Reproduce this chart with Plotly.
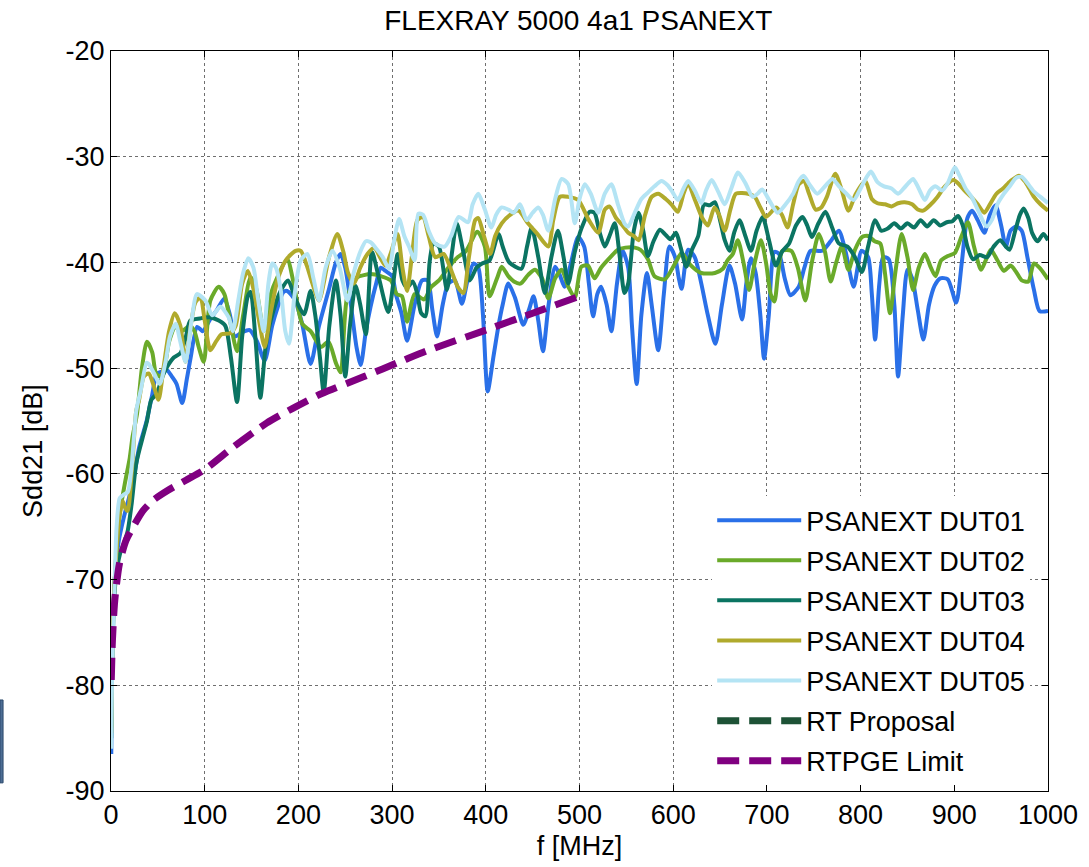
import plotly.graph_objects as go

# ---------------- data ----------------
dut01_f = [0.3, 1, 2, 4, 8, 14, 20, 25, 30, 38, 44, 49, 55, 60, 65, 70, 76, 81, 85, 92, 98, 105, 113, 121, 127, 132, 140, 148, 156, 164, 172, 178, 184, 188, 196, 204, 213, 222, 233, 240, 245, 250, 256, 262, 266.5, 272, 277, 283, 288, 293, 300, 304, 310, 316, 324, 332, 338, 343, 348, 354, 360, 367, 374.5, 381, 387, 392, 397, 402, 408, 413.5, 418, 424, 431, 440, 446, 451, 456, 461, 467, 474, 479, 484, 491, 498.6, 505, 510, 514.5, 519, 523, 529, 534, 540, 546, 552, 556, 561, 566, 572, 577, 584, 590, 596, 602, 606, 609, 616, 623, 630, 637, 645, 652, 660, 666, 673.5, 678, 683, 688, 693, 697, 702, 708, 713, 719, 725, 734, 740, 746.6, 759, 768, 776.7, 784, 792.6, 801, 808, 812, 815.5, 820, 824, 830, 836, 840, 845, 850, 855, 861, 867, 873, 879, 885, 893, 902, 908, 914, 919, 925, 932, 938, 944, 950, 955, 960, 966, 972, 978, 985, 991, 1000]
dut01_db = [-86.5, -79, -74, -70, -66.5, -64, -62, -60, -57.5, -55, -52.5, -50.5, -50.3, -50.2, -50.8, -51.5, -53.3, -51, -49, -46.1, -46.5, -45.5, -44.5, -43.4, -45, -47, -46.6, -46.4, -47.5, -49.3, -46, -44.2, -42.8, -42.7, -43.5, -45.8, -49.6, -46, -42.4, -40, -39.2, -40.5, -44, -48, -49.7, -46.5, -44.2, -42, -40.5, -40.8, -41.3, -43, -44.8, -47.4, -44, -41.7, -41.7, -44.5, -47, -44, -42, -41.7, -43.9, -41.5, -40.1, -40.5, -45, -52.2, -49, -46, -44, -42, -43.3, -45.9, -44.5, -43.2, -45.5, -48.4, -44, -40.4, -41.2, -42.3, -40, -37.6, -38.5, -42, -45.1, -43, -42.3, -44, -46.5, -42, -38.9, -40.5, -46, -51.5, -45, -41, -44, -48.3, -43, -38.5, -39.5, -41.5, -42.5, -38.8, -39.5, -42, -45, -47.7, -44, -40.3, -42, -45.4, -42, -39.6, -41, -45, -49.1, -45, -39, -39.2, -41.5, -43.1, -42.3, -40.5, -38.9, -38.9, -38, -37, -39, -42.3, -38.9, -39.5, -43, -47.3, -42, -39.5, -39.7, -44, -50.8, -45, -40.7, -41.5, -44.5, -47.3, -44, -42.2, -41.5, -41.6, -43.8, -40, -35.8, -35.1, -36, -37.2, -35.5, -34.6, -36.5, -38.5, -37, -36.6, -37, -39.5, -42.6, -44.6, -44.6]

dut02_f = [0.3, 2, 4, 9, 14.6, 20, 23, 27.8, 33, 38.4, 44, 48, 52.7, 57, 62, 68.7, 73, 77.6, 84, 89, 93.6, 99, 106, 115, 121, 127, 134.5, 141, 149, 155, 163, 170.5, 177, 188, 195, 204, 213, 224, 232, 240, 245, 252, 263, 270, 277, 288, 298.6, 305, 310.6, 316, 324, 334, 342, 350, 360, 370, 379, 391, 399, 404, 412, 417, 424, 430, 437, 445, 452.5, 460, 466.7, 474, 481, 488, 495, 502, 509, 516, 523, 534, 541, 549, 559, 565, 573, 580, 591, 602, 609, 618, 630, 644.5, 653, 658, 663.6, 669, 675, 681, 687, 693.6, 699, 704, 708, 712, 716.6, 726, 733, 741, 748, 755.5, 762, 768, 774, 780, 787, 794, 801.4, 808, 815, 821, 826, 831.4, 837, 843.8, 850, 856, 862, 868.6, 875, 880, 886, 893, 900.7, 907.4, 914.5, 921, 928.6, 934, 939, 946, 953, 960, 966, 972, 979, 985, 992, 1000]
dut02_db = [-84, -74, -70, -64, -61, -58.5, -56.5, -54.3, -50, -47.5, -48.5, -50.5, -50.8, -50, -47.5, -46, -46.5, -46.4, -46, -46.5, -48, -49.4, -43.6, -42.3, -43, -45.5, -48.4, -45, -41.4, -42.5, -46.5, -43, -41.5, -39.7, -42, -45.8, -46.5, -48, -47.5, -49.5, -50.4, -43.3, -41.4, -41.2, -41.1, -41.3, -41.7, -43, -43.2, -45.6, -43, -43.5, -42.3, -41.7, -40.5, -39.5, -38.9, -37.1, -38.5, -43.2, -41.5, -40.4, -41.3, -41.8, -42, -41.2, -40.7, -41.5, -43.4, -41.5, -40.7, -42.3, -43.3, -40.4, -40.3, -41.5, -40.5, -39.4, -38.8, -38.6, -38.6, -38.8, -39.7, -41.3, -41.6, -40.1, -39.1, -40.2, -41, -41, -40.6, -39.8, -39.2, -37.9, -40, -42.6, -40, -37.9, -40, -43, -43.7, -41, -38.9, -38.9, -40.5, -43.6, -40, -37.3, -39, -41.8, -40, -38.5, -40.7, -38.8, -37.6, -37.5, -38, -38.2, -41, -44.8, -41, -37.3, -39.5, -42.6, -40.5, -39.2, -40.5, -41.3, -39.8, -39.4, -39.1, -37.6, -36.2, -38.5, -40.7, -39.7, -38.8, -39.8, -40.8, -40.3, -40.9, -41.7, -41.8, -40.1, -40.6, -41.6]

dut03_f = [0.3, 2, 5, 9.5, 14, 17.8, 21.8, 27, 34, 38.4, 43, 49, 54, 59.8, 67, 74, 80, 84.7, 95, 106, 115, 122, 128, 134.5, 140, 146, 149, 154, 159.4, 165, 171, 181, 189, 197, 206, 213, 218, 223, 227, 233, 240, 245, 250, 255, 261, 266, 272, 278.5, 286, 296, 306, 311, 316, 322, 327, 331, 335.5, 340, 344, 350, 358.5, 364, 369, 376, 383, 390, 396, 404, 413.5, 418, 425, 438, 444, 449, 456, 463, 470, 477, 483, 488, 495, 502, 511, 516, 521, 527, 532, 537.7, 543, 548, 552, 558, 563, 568, 573, 579, 585.8, 591, 597, 603, 608, 614, 620, 626.7, 633, 639, 644.5, 650, 655, 660, 665, 670.7, 677, 683, 689, 695.4, 702, 709.5, 716, 723.7, 731, 738, 743, 748, 755, 762.5, 770, 776.7, 786, 794, 801.4, 808, 815.5, 822, 829, 836, 843, 850, 857, 864, 871, 878, 885, 892, 898, 904, 909, 914, 920, 927, 935, 942, 949, 955, 959, 965, 970, 974, 979, 983, 989, 995, 1000]
dut03_db = [-85, -75, -70, -67.6, -66.5, -65.4, -63, -59, -56.5, -55, -53, -52.4, -51, -49.9, -49, -48.6, -47, -45.5, -45.3, -45.2, -45.5, -46, -49, -53.2, -47, -43.2, -42.8, -47, -52.8, -48, -45.3, -42.7, -41.7, -43.5, -44.9, -42.7, -45, -49, -52.3, -46, -41.7, -45, -50.8, -46, -42.2, -44, -46.8, -39, -41.5, -44.7, -39.2, -41.7, -42.4, -41.8, -43, -44.8, -45.1, -40, -38.2, -38.5, -42.6, -39, -36.3, -39, -41.7, -40.5, -40.1, -39.8, -37.3, -38.5, -40, -40.6, -38.5, -36.7, -39.5, -42.9, -39.5, -37, -39.5, -42, -39, -36.8, -35.2, -35.3, -37, -38.5, -37.5, -36.3, -39.5, -42.9, -42, -37, -35.3, -37, -39.4, -38, -36.9, -37.3, -37.8, -37.2, -38.6, -40.4, -38.8, -37.5, -34.5, -34.6, -34.3, -36, -37.9, -38.9, -37.2, -36, -37.5, -38.9, -37, -35.7, -37.8, -40.3, -39, -38.2, -36.5, -35.7, -36.5, -37.6, -36.3, -35.2, -36.8, -38.2, -38.5, -39.5, -40.9, -38.5, -36, -37, -36.8, -36.3, -36.8, -36.3, -36.7, -36, -36.6, -36, -36.5, -36.2, -36.1, -35.6, -36.5, -38.5, -39.7, -39.3, -39.5, -38.5, -37.9, -38.5, -38.8, -37, -35.5, -34.9, -35.8, -37.2, -38, -37.3, -37.9]

dut04_f = [0.3, 2, 5, 9, 12.6, 15, 17.8, 22, 27, 30, 35, 40.2, 45, 50.7, 56, 62, 68, 74, 79.5, 85, 90, 95.5, 100, 106, 112, 118, 127, 133, 140, 146, 152, 158, 164, 170, 177.6, 186.5, 197, 202.5, 209, 215, 222, 232.7, 241.6, 248, 253, 259.4, 266, 273.7, 281, 287, 293, 299, 305.7, 311, 316, 321, 327, 333, 339, 346, 355, 362, 370, 376, 382, 388.7, 392, 398, 404.6, 410, 417, 426, 434.8, 445, 455, 466.7, 472, 479, 488, 498.6, 510, 520, 527, 532, 539, 546, 552, 558, 563, 570, 577, 584, 592, 598, 605, 611, 616, 622, 631, 637, 644, 649, 655, 661, 667, 680, 687, 693, 699, 710, 716, 722, 728, 734, 739.6, 745, 752, 758, 764, 773, 780, 787, 795, 805, 812, 818, 826, 833, 840, 847, 855, 861, 866.8, 875, 882, 890, 899, 905, 911, 918, 925, 932, 938, 945, 952, 960, 969, 975, 980, 985, 992, 1000]
dut04_db = [-84.5, -74, -68.5, -64, -62.6, -63.2, -63.5, -60, -54, -53, -50.8, -50.5, -51.5, -53, -50, -46.5, -44.8, -46, -49.4, -46, -43.8, -43.3, -45.5, -48.3, -47.5, -46.8, -46.7, -46, -42, -40.8, -42.5, -45.5, -48, -45, -41.7, -39.8, -38.9, -38.9, -40.3, -42, -43.6, -39.5, -37.3, -39, -41, -42, -40.5, -39.2, -38.6, -39.5, -40.3, -39, -37.3, -40.5, -42.7, -39.5, -36, -35.7, -37.5, -39.5, -39.2, -40.5, -42.3, -42.9, -39.5, -36, -35.8, -37.5, -39.2, -37.5, -36.3, -35.5, -35.1, -36.3, -37.3, -38.5, -36, -33.8, -33.8, -34.1, -36, -37.2, -35, -34.7, -35.8, -36.5, -37.2, -37.5, -37.9, -35.5, -33.8, -33.5, -34, -34.5, -35.2, -33.5, -32.5, -33.8, -35.8, -36.5, -34.8, -35.5, -37, -35, -33.5, -33.5, -33.8, -34.8, -35.7, -34.8, -35.5, -36.7, -34.5, -32.6, -32.3, -33.5, -35, -34.8, -33.8, -31.6, -33.2, -35.1, -33.5, -32.3, -34, -34.4, -34.5, -34.7, -34.4, -34.3, -34.5, -35, -35.1, -34.5, -33.8, -32.8, -32.2, -32.6, -33.2, -33.8, -34.5, -35.3, -34.5, -33.5, -33, -32.3, -31.8, -32.3, -33, -33.8, -34.5, -35.1]

dut05_f = [0.3, 1, 2, 4, 6, 9.3, 13, 18, 21.8, 27, 32, 38, 40.2, 46, 52, 58, 63, 69, 74, 79.5, 86, 91.8, 100.7, 108, 116.7, 125.6, 130, 136, 141, 146.5, 152, 157, 163, 168, 172, 176, 181, 186, 190, 196, 202.5, 209.6, 216, 222, 229, 236.3, 244, 252.3, 259, 266.5, 272, 277, 284, 290, 296.8, 302, 307.5, 313, 318, 324, 328, 333, 339, 346, 356, 363, 371, 381, 386, 392, 399, 406, 411, 417, 424, 430, 436.5, 443.6, 450, 456, 461, 466.7, 474, 481, 488, 495, 500, 505.7, 512, 520, 527, 534, 541, 548, 552, 558, 566, 573, 580, 587.5, 594, 599, 605, 611, 616, 623, 630, 635, 641, 648, 655, 662, 669, 677, 684.8, 690, 695, 703, 711.5, 720, 728, 734, 739, 746, 753.7, 762, 770, 777, 785, 792.6, 800, 806, 811, 818, 825, 833, 840, 846, 851, 856, 862, 868.6, 874, 880, 887, 893, 900.5, 905, 912, 918.5, 925, 934.5, 940, 946, 953, 960, 966, 972, 978, 985, 992, 1000]
dut05_db = [-86, -80, -76, -70, -65, -62.3, -62, -61.7, -59.5, -54, -52, -49.5, -49.6, -50.5, -51.5, -49.5, -47, -45.8, -47.5, -49.4, -45.5, -43, -43.6, -45, -44.2, -45.2, -46.5, -43.5, -41, -39.6, -40.5, -43.5, -46.5, -42, -40.1, -40.5, -42.5, -46.5, -47.7, -43, -39.8, -39.2, -41.5, -43.6, -40.5, -38.9, -40.5, -43.6, -41, -38.9, -38, -38.1, -38.8, -39.5, -40.6, -38, -35.9, -37.5, -38.5, -39.8, -35.4, -35.5, -37, -38.2, -38.5, -37.5, -35.7, -36.2, -34.5, -33.5, -35, -36.7, -35.5, -34.8, -35, -35.3, -34.5, -36, -35.3, -34.8, -35.5, -37, -34, -32.1, -32.6, -36.3, -34, -32.6, -33.5, -35.3, -33.5, -32.6, -34.5, -36.3, -36.6, -35.5, -34, -33.4, -32.8, -32.3, -32.7, -33.3, -34.1, -33, -32.3, -33.2, -34.4, -33.2, -32.2, -33.3, -34.5, -33, -31.5, -32.5, -33.8, -33.5, -33.1, -34.2, -35.3, -34.5, -33.5, -32.3, -31.8, -32.7, -33.5, -32.8, -32.1, -32.8, -33.5, -34.1, -33, -32, -31.4, -32.4, -32.8, -33, -33.5, -33, -32.5, -32.1, -33, -34.1, -33.2, -32.8, -33.2, -32.5, -31, -31.7, -33, -33.8, -35, -36.6, -36, -34.5, -33.5, -32.7, -32, -31.9, -32.5, -33.3, -33.8, -34.4]

rt_proposal_f = [None]
rt_proposal_db = [None]

rtpge_f = [0.3, 1.5, 4, 9, 16, 25, 34, 45, 60, 80, 100, 130, 166, 194, 225, 270, 311, 336, 400, 450, 500]
rtpge_db = [-79.5, -75.8, -72, -68.5, -66.3, -64.8, -63.5, -62.5, -61.6, -60.6, -59.6, -57.5, -55.2, -53.8, -52.4, -50.8, -49.3, -48.4, -46.4, -44.8, -43.2]

x_ticks = [0, 100, 200, 300, 400, 500, 600, 700, 800, 900, 1000]
y_ticks = [-90, -80, -70, -60, -50, -40, -30, -20]
x_tick_text = ["0", "100", "200", "300", "400", "500", "600", "700", "800", "900", "1000"]
y_tick_text = ["-90", "-80", "-70", "-60", "-50", "-40", "-30", "-20"]

names = ["PSANEXT DUT01", "PSANEXT DUT02", "PSANEXT DUT03", "PSANEXT DUT04",
         "PSANEXT DUT05", "RT Proposal", "RTPGE Limit"]
colors = ["#2a70e8", "#6aaa2a", "#0b7462", "#b0aa2c", "#b4e4f4", "#1d5236", "#800080"]

series = [(dut01_f, dut01_db), (dut02_f, dut02_db), (dut03_f, dut03_db),
          (dut04_f, dut04_db), (dut05_f, dut05_db),
          (rt_proposal_f, rt_proposal_db), (rtpge_f, rtpge_db)]

FONT = "Liberation Sans, Arial, sans-serif"

fig = go.Figure()
for i, ((fx, fy), name, col) in enumerate(zip(series, names, colors)):
    dashed = i >= 5
    fig.add_trace(go.Scatter(
        x=fx, y=fy, mode="lines", name=name, legendgroup=name,
        line=dict(color=col, width=7 if dashed else 4,
                  dash="22px,10px" if dashed else "solid",
                  shape="spline", smoothing=0.7),
    ))

fig.update_layout(
    width=1089, height=867,
    margin=dict(l=111, r=41, t=51, b=76),
    paper_bgcolor="white", plot_bgcolor="white",
    font=dict(family=FONT, size=27, color="black"),
    title=dict(text="FLEXRAY 5000 4a1 PSANEXT", x=0.531, xanchor="center",
               y=0.977, yanchor="middle", font=dict(size=28, color="black")),
    showlegend=True,
    legend=dict(x=0.981, xanchor="right", y=0.008, yanchor="bottom",
                bgcolor="white", borderwidth=0, itemwidth=84,
                font=dict(size=27, color="black"),
                traceorder="grouped", tracegroupgap=2),
    shapes=[dict(type="rect", xref="paper", yref="paper",
                 x0=-0.1185, x1=-0.1152, y0=0.011, y1=0.123,
                 fillcolor="#4d6d94", line=dict(color="#2c4a6c", width=1))],
    annotations=[dict(text="Sdd21 [dB]", textangle=-90, xref="paper", yref="paper",
                      x=-0.084, y=0.46, xanchor="center", yanchor="middle",
                      showarrow=False, font=dict(size=27, color="black"))],
)
fig.update_xaxes(
    range=[0, 1000], tickmode="array", tickvals=x_ticks, ticktext=x_tick_text,
    ticks="inside", ticklen=6, tickcolor="black",
    showline=True, linecolor="black", linewidth=1, mirror="allticks",
    showgrid=True, gridcolor="#6f6f6f", griddash="dot", gridwidth=1,
    zeroline=False,
    title=dict(text="f [MHz]", font=dict(size=27), standoff=6),
    tickfont=dict(size=27),
)
fig.update_yaxes(
    range=[-90, -20], tickmode="array", tickvals=y_ticks, ticktext=y_tick_text,
    ticks="inside", ticklen=6, tickcolor="black",
    showline=True, linecolor="black", linewidth=1, mirror="allticks",
    showgrid=True, gridcolor="#6f6f6f", griddash="dot", gridwidth=1,
    zeroline=False,
    tickfont=dict(size=27),
)

fig.write_html("out.html")
